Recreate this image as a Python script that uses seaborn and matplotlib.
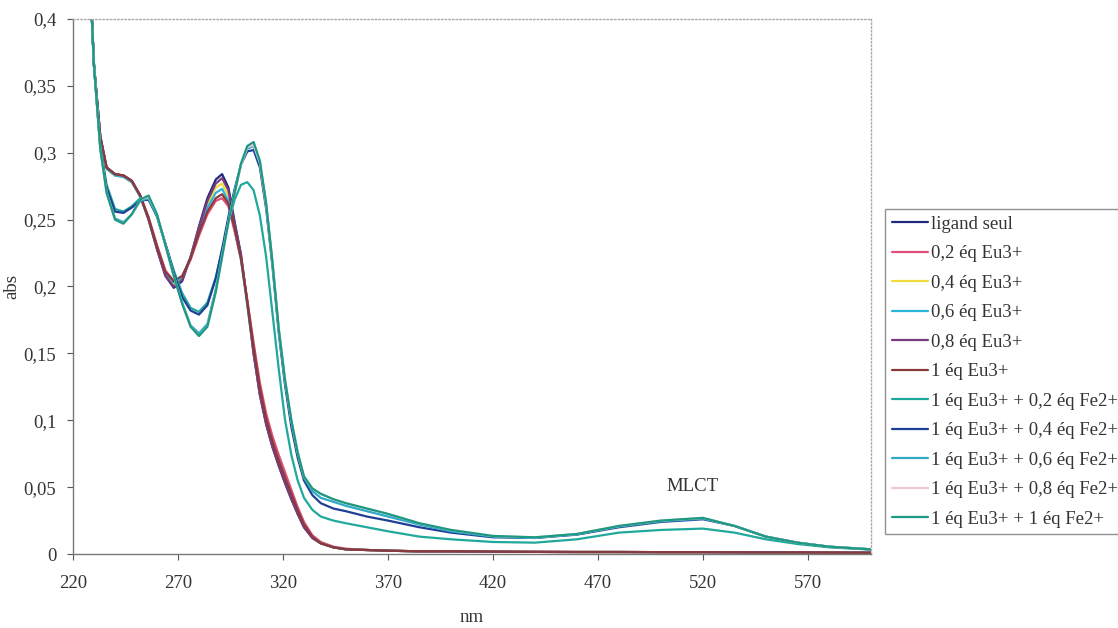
import pandas as pd
import matplotlib
matplotlib.use("Agg")
import matplotlib.pyplot as plt
from matplotlib.ticker import FuncFormatter
import seaborn as sns

nm = [228, 230, 233, 236, 240, 244, 248, 252, 256, 260,
      264, 268, 272, 276, 280, 284, 288, 291, 294, 297,
      300, 303, 306, 309, 312, 315, 318, 321, 324, 327,
      330, 334, 338, 344, 350, 360, 370, 385, 400, 420,
      440, 460, 480, 500, 520, 535, 550, 565, 580, 600]

ligand_seul = [0.435, 0.365, 0.312, 0.289, 0.284, 0.283, 0.279, 0.268, 0.250, 0.228,
               0.208, 0.199, 0.204, 0.222, 0.245, 0.266, 0.280, 0.284, 0.274, 0.248,
               0.224, 0.188, 0.150, 0.119, 0.097, 0.080, 0.066, 0.053, 0.041, 0.030,
               0.020, 0.012, 0.008, 0.005, 0.0035, 0.003, 0.0025, 0.002, 0.002, 0.0018,
               0.0016, 0.0015, 0.0015, 0.0014, 0.0014, 0.0013, 0.0012, 0.0012, 0.0011, 0.0010]

eu_02 = [0.435, 0.365, 0.312, 0.288, 0.283, 0.282, 0.278, 0.268, 0.252, 0.231,
         0.212, 0.204, 0.207, 0.220, 0.238, 0.254, 0.264, 0.266, 0.260, 0.241,
         0.220, 0.190, 0.158, 0.128, 0.105, 0.088, 0.074, 0.061, 0.048, 0.035,
         0.024, 0.014, 0.009, 0.0055, 0.004, 0.003, 0.0025, 0.002, 0.002, 0.0018,
         0.0016, 0.0015, 0.0015, 0.0014, 0.0014, 0.0013, 0.0012, 0.0012, 0.0011, 0.0010]

eu_04 = [0.435, 0.365, 0.312, 0.288, 0.283, 0.282, 0.278, 0.267, 0.250, 0.229,
         0.210, 0.202, 0.206, 0.222, 0.243, 0.262, 0.274, 0.277, 0.268, 0.245,
         0.221, 0.187, 0.151, 0.121, 0.099, 0.082, 0.068, 0.055, 0.043, 0.031,
         0.021, 0.012, 0.008, 0.005, 0.0035, 0.003, 0.0025, 0.002, 0.002, 0.0018,
         0.0016, 0.0015, 0.0015, 0.0014, 0.0014, 0.0013, 0.0012, 0.0012, 0.0011, 0.0010]

eu_06 = [0.435, 0.365, 0.312, 0.288, 0.283, 0.282, 0.278, 0.267, 0.250, 0.229,
         0.210, 0.203, 0.207, 0.222, 0.242, 0.259, 0.270, 0.273, 0.264, 0.243,
         0.220, 0.186, 0.151, 0.121, 0.099, 0.082, 0.068, 0.055, 0.043, 0.031,
         0.021, 0.012, 0.008, 0.005, 0.0035, 0.003, 0.0025, 0.002, 0.002, 0.0018,
         0.0016, 0.0015, 0.0015, 0.0014, 0.0014, 0.0013, 0.0012, 0.0012, 0.0011, 0.0010]

eu_08 = [0.435, 0.365, 0.312, 0.289, 0.284, 0.283, 0.279, 0.268, 0.250, 0.228,
         0.208, 0.200, 0.205, 0.222, 0.244, 0.264, 0.277, 0.281, 0.272, 0.247,
         0.223, 0.188, 0.150, 0.119, 0.097, 0.080, 0.066, 0.053, 0.041, 0.030,
         0.020, 0.012, 0.008, 0.005, 0.0035, 0.003, 0.0025, 0.002, 0.002, 0.0018,
         0.0016, 0.0015, 0.0015, 0.0014, 0.0014, 0.0013, 0.0012, 0.0012, 0.0011, 0.0010]

eu_10 = [0.435, 0.365, 0.312, 0.289, 0.284, 0.283, 0.279, 0.268, 0.251, 0.230,
         0.211, 0.204, 0.208, 0.221, 0.240, 0.256, 0.266, 0.269, 0.262, 0.243,
         0.221, 0.189, 0.155, 0.124, 0.101, 0.084, 0.070, 0.057, 0.045, 0.033,
         0.022, 0.013, 0.008, 0.005, 0.0035, 0.003, 0.0025, 0.002, 0.002, 0.0018,
         0.0016, 0.0015, 0.0015, 0.0014, 0.0014, 0.0013, 0.0012, 0.0012, 0.0011, 0.0010]

fe_02 = [0.435, 0.365, 0.305, 0.276, 0.258, 0.256, 0.260, 0.266, 0.265, 0.252,
         0.232, 0.212, 0.195, 0.184, 0.181, 0.188, 0.207, 0.227, 0.248, 0.265,
         0.276, 0.278, 0.272, 0.253, 0.222, 0.180, 0.138, 0.100, 0.074, 0.055,
         0.042, 0.033, 0.028, 0.025, 0.023, 0.020, 0.017, 0.013, 0.011, 0.009,
         0.0085, 0.011, 0.016, 0.018, 0.019, 0.016, 0.011, 0.0075, 0.005, 0.0033]

fe_04 = [0.435, 0.365, 0.304, 0.274, 0.256, 0.255, 0.259, 0.264, 0.265, 0.253,
         0.232, 0.210, 0.192, 0.182, 0.179, 0.186, 0.206, 0.228, 0.252, 0.273,
         0.291, 0.301, 0.302, 0.289, 0.258, 0.215, 0.165, 0.126, 0.095, 0.072,
         0.055, 0.044, 0.038, 0.034, 0.032, 0.028, 0.025, 0.020, 0.016, 0.0125,
         0.012, 0.0145, 0.020, 0.024, 0.026, 0.021, 0.013, 0.0085, 0.0055, 0.0035]

fe_06 = [0.435, 0.365, 0.303, 0.271, 0.251, 0.248, 0.254, 0.264, 0.266, 0.253,
         0.231, 0.208, 0.188, 0.171, 0.165, 0.172, 0.198, 0.224, 0.249, 0.271,
         0.291, 0.303, 0.305, 0.292, 0.261, 0.218, 0.168, 0.129, 0.099, 0.075,
         0.057, 0.047, 0.042, 0.039, 0.036, 0.032, 0.028, 0.022, 0.017, 0.013,
         0.012, 0.0148, 0.0205, 0.0245, 0.0265, 0.021, 0.013, 0.0085, 0.0055, 0.0035]

fe_08 = [0.435, 0.365, 0.303, 0.270, 0.250, 0.247, 0.254, 0.265, 0.267, 0.254,
         0.231, 0.208, 0.187, 0.170, 0.163, 0.170, 0.196, 0.222, 0.248, 0.270,
         0.291, 0.304, 0.306, 0.293, 0.261, 0.218, 0.168, 0.130, 0.100, 0.076,
         0.058, 0.049, 0.045, 0.041, 0.038, 0.034, 0.030, 0.023, 0.018, 0.0135,
         0.0125, 0.015, 0.021, 0.025, 0.027, 0.021, 0.013, 0.0085, 0.0055, 0.0035]

fe_10 = [0.435, 0.365, 0.303, 0.270, 0.250, 0.247, 0.254, 0.265, 0.268, 0.254,
         0.231, 0.208, 0.187, 0.170, 0.163, 0.170, 0.196, 0.222, 0.248, 0.270,
         0.292, 0.305, 0.308, 0.294, 0.262, 0.218, 0.168, 0.130, 0.100, 0.076,
         0.058, 0.049, 0.045, 0.041, 0.038, 0.034, 0.030, 0.023, 0.018, 0.0135,
         0.0125, 0.015, 0.021, 0.025, 0.027, 0.021, 0.013, 0.0085, 0.0055, 0.0035]

series = {
    "ligand seul": ligand_seul,
    "0,2 éq Eu3+": eu_02,
    "0,4 éq Eu3+": eu_04,
    "0,6 éq Eu3+": eu_06,
    "0,8 éq Eu3+": eu_08,
    "1 éq Eu3+": eu_10,
    "1 éq Eu3+ + 0,2 éq Fe2+": fe_02,
    "1 éq Eu3+ + 0,4 éq Fe2+": fe_04,
    "1 éq Eu3+ + 0,6 éq Fe2+": fe_06,
    "1 éq Eu3+ + 0,8 éq Fe2+": fe_08,
    "1 éq Eu3+ + 1 éq Fe2+": fe_10,
}

couleurs = ["#22287a", "#e0507a", "#f0dc3c", "#2cb4d8", "#7a3a80", "#8a3a3a",
            "#20a89c", "#1f3f96", "#30a8c8", "#ecc8d2", "#1a9a80"]

df = pd.DataFrame([
    {"nm": x, "abs": y, "serie": nom}
    for nom, vals in series.items()
    for x, y in zip(nm, vals)
])

sns.set_theme(style="white")
plt.rcParams["font.family"] = ["Liberation Serif", "DejaVu Serif"]

fig = plt.figure(figsize=(11.18, 6.28), dpi=100)
ax = fig.add_axes([0.0653, 0.1178, 0.7137, 0.852])

sns.lineplot(data=df, x="nm", y="abs", hue="serie", hue_order=list(series.keys()),
             palette=couleurs, linewidth=1.6, sort=False, legend=False, ax=ax)

ax.set_xlim(220, 600)
ax.set_ylim(0, 0.4)
ax.set_xticks(range(220, 600, 50))
ax.set_yticks([0, 0.05, 0.1, 0.15, 0.2, 0.25, 0.3, 0.35, 0.4])
ax.yaxis.set_major_formatter(FuncFormatter(lambda v, p: f"{v:g}".replace(".", ",")))
ax.tick_params(axis="both", direction="out", length=4, width=0.8, colors="#555555",
               labelsize=13.5, labelcolor="#333333", left=True, bottom=True)
ax.tick_params(axis="x", pad=11)
ax.tick_params(axis="y", pad=8)

for cote in ["left", "bottom"]:
    ax.spines[cote].set_color("#777777")
    ax.spines[cote].set_linewidth(1.0)
for cote in ["top", "right"]:
    ax.spines[cote].set_color("#aaaaaa")
    ax.spines[cote].set_linestyle(":")
    ax.spines[cote].set_linewidth(1.0)

ax.set_xlabel("nm", fontsize=13.5, color="#333333", labelpad=12)
ax.set_ylabel("abs", fontsize=13.5, color="#333333", labelpad=2)
ax.text(515, 0.047, "MLCT", fontsize=13.5, color="#333333", ha="center")

handles = [plt.Line2D([], [], color=c, linewidth=1.6) for c in couleurs]
leg = ax.legend(handles, list(series.keys()), loc="upper left",
                bbox_to_anchor=(885 / 1118, 1 - 209 / 628), bbox_transform=fig.transFigure,
                fontsize=13.5, frameon=True, fancybox=False, edgecolor="#777777",
                handlelength=1.95, handletextpad=0.15, labelspacing=0.66, borderpad=0.35,
                borderaxespad=0)
leg.get_frame().set_linewidth(1.0)
for t in leg.get_texts():
    t.set_color("#333333")

fig.savefig("out.png", dpi=100)
